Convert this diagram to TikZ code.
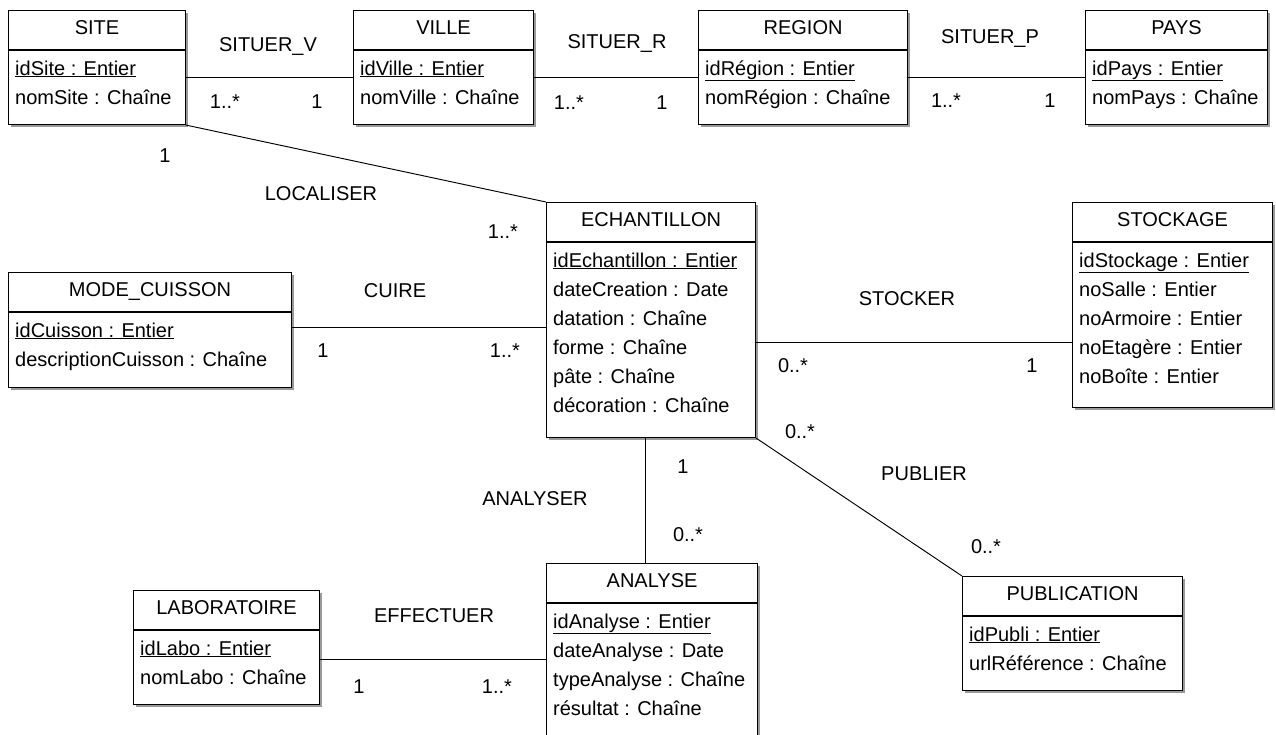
\documentclass[tikz,border=0pt]{standalone}
\usepackage{fontspec}
\setmainfont{Liberation Sans}
\usetikzlibrary{shadows}
\tikzset{
  clsbox/.style={draw=black, line width=1.1pt, fill=white, inner sep=0pt, anchor=north west,
    drop shadow={shadow xshift=2pt, shadow yshift=-2pt, fill=black!40, opacity=1}},
  sepline/.style={draw=black, line width=1.1pt},
  txt/.style={inner sep=0pt, text height=14pt, text depth=4pt},
  ttl/.style={txt, anchor=center},
  attr/.style={txt, anchor=west},
  lbl/.style={txt, anchor=center},
  assoc/.style={draw=black, line width=0.95pt},
}
\newcommand{\umlclass}[7]{%
  \node[clsbox, minimum width=#4pt, minimum height=#5pt] (#1) at (#2,#3) {};
  \draw[sepline] ([yshift=-40pt]#1.north west) -- ([yshift=-40pt]#1.north east);
  \node[ttl] (#1-t) at ([yshift=-19pt]#1.north) {#6};
  \foreach \a [count=\i] in {#7} {
    \pgfmathsetmacro\yy{-60-29*(\i-1)}
    \node[attr] (#1-a\i) at ([xshift=7pt, yshift=\yy pt]#1.north west) {\a};
  }
}
\begin{document}
\begin{tikzpicture}[x=1pt, y=-1pt, font=\fontsize{20}{24}\selectfont]
\useasboundingbox (0,0) rectangle (1276,734);
\clip (0,0) rectangle (1276,734);
\fill[white] (0,0) rectangle (1276,734);

% classes
\umlclass{site}{8}{10}{177}{114}{SITE}{\underline{idSite : Entier}, nomSite : Chaîne}
\umlclass{ville}{353}{10}{180}{114}{VILLE}{\underline{idVille : Entier}, nomVille : Chaîne}
\umlclass{region}{698}{10}{209}{114}{REGION}{\underline{idRégion : Entier}, nomRégion : Chaîne}
\umlclass{pays}{1085}{10}{182}{114}{PAYS}{\underline{idPays : Entier}, nomPays : Chaîne}
\umlclass{ech}{546}{202}{209}{235}{ECHANTILLON}{\underline{idEchantillon : Entier}, dateCreation : Date, datation : Chaîne, forme : Chaîne, pâte : Chaîne, décoration : Chaîne}
\umlclass{stock}{1072}{202}{200}{205}{STOCKAGE}{\underline{idStockage : Entier}, noSalle : Entier, noArmoire : Entier, noEtagère : Entier, noBoîte : Entier}
\umlclass{cuis}{8}{272}{283}{115}{MODE\_CUISSON}{\underline{idCuisson : Entier}, descriptionCuisson : Chaîne}
\umlclass{ana}{546}{563}{211}{200}{ANALYSE}{\underline{idAnalyse : Entier}, dateAnalyse : Date, typeAnalyse : Chaîne, résultat : Chaîne}
\umlclass{labo}{133}{590}{186}{114}{LABORATOIRE}{\underline{idLabo : Entier}, nomLabo : Chaîne}
\umlclass{pub}{962}{576}{220}{114}{PUBLICATION}{\underline{idPubli : Entier}, urlRéférence : Chaîne}

% connector levels
\coordinate (ytop) at (0,77);
\coordinate (ycuire) at (0,327);
\coordinate (ystock) at (0,342);
\coordinate (yeff) at (0,659);
\coordinate (xana) at (645,0);

% connectors
\draw[assoc] (site.east |- ytop) -- (ville.west |- ytop);
\draw[assoc] (ville.east |- ytop) -- (region.west |- ytop);
\draw[assoc] (region.east |- ytop) -- (pays.west |- ytop);
\draw[assoc] (site.south east) -- (ech.north west);
\draw[assoc] (cuis.east |- ycuire) -- (ech.west |- ycuire);
\draw[assoc] (ech.east |- ystock) -- (stock.west |- ystock);
\draw[assoc] (ech.south east) -- (pub.north west);
\draw[assoc] (ech.south -| xana) -- (ana.north -| xana);
\draw[assoc] (labo.east |- yeff) -- (ana.west |- yeff);

% association labels and multiplicities
\node[lbl] (l-sv) at (268,46) {SITUER\_V};
\node[lbl] (m-sv1) at (225,103) {1..*};
\node[lbl] (m-sv2) at (317,103) {1};
\node[lbl] (l-sr) at (617,43) {SITUER\_R};
\node[lbl] (m-sr1) at (569,104) {1..*};
\node[lbl] (m-sr2) at (662,104) {1};
\node[lbl] (l-sp) at (990,38) {SITUER\_P};
\node[lbl] (m-sp1) at (946,102) {1..*};
\node[lbl] (m-sp2) at (1050,102) {1};

\node[lbl] (l-loc) at (321,195) {LOCALISER};
\node[lbl] (m-loc1) at (165,157) {1};
\node[lbl] (m-loc2) at (503,233) {1..*};

\node[lbl] (l-cui) at (395,292) {CUIRE};
\node[lbl] (m-cui1) at (323,352) {1};
\node[lbl] (m-cui2) at (505,352) {1..*};

\node[lbl] (l-sto) at (907,300) {STOCKER};
\node[lbl] (m-sto1) at (793,367) {0..*};
\node[lbl] (m-sto2) at (1032,367) {1};

\node[lbl] (l-pub) at (924,475) {PUBLIER};
\node[lbl] (m-pub1) at (800,433) {0..*};
\node[lbl] (m-pub2) at (986,548) {0..*};

\node[lbl] (l-ana) at (535,500) {ANALYSER};
\node[lbl] (m-ana1) at (683,468) {1};
\node[lbl] (m-ana2) at (688,536) {0..*};

\node[lbl] (l-eff) at (434,617) {EFFECTUER};
\node[lbl] (m-eff1) at (359,688) {1};
\node[lbl] (m-eff2) at (497,688) {1..*};
\end{tikzpicture}
\end{document}
